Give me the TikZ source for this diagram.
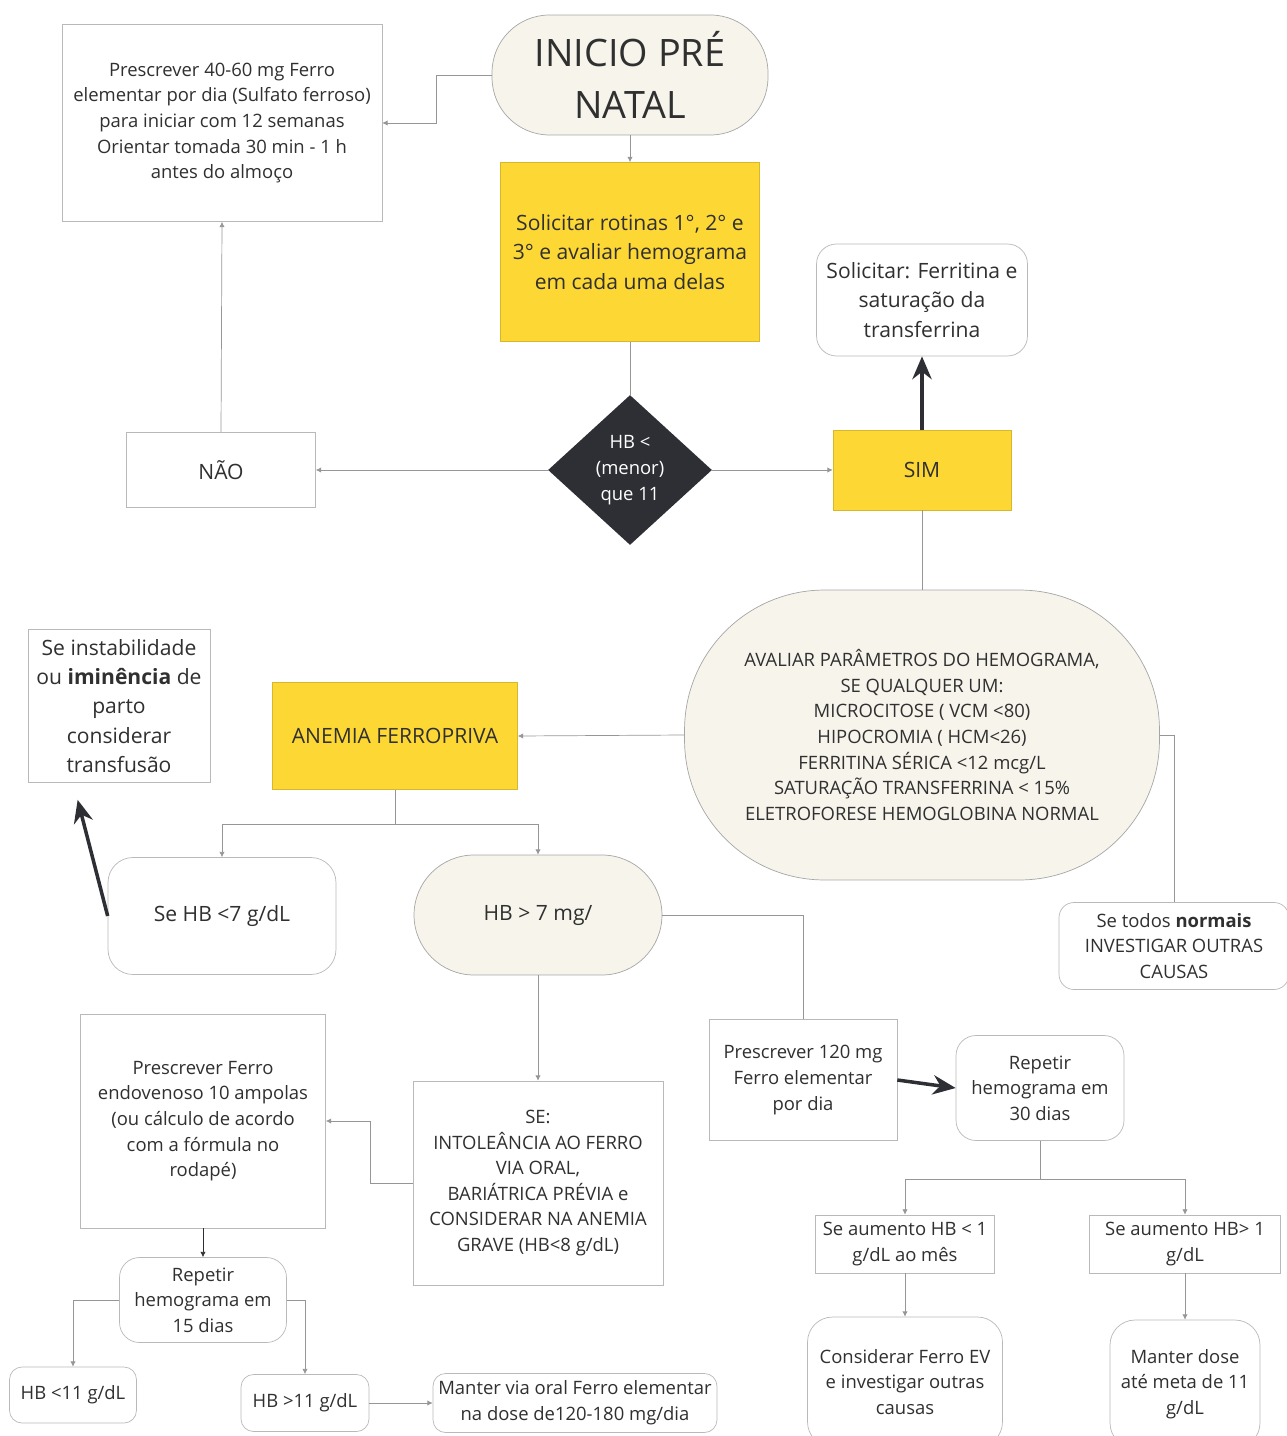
\documentclass[tikz,border=0pt]{standalone}
\usepackage{fontspec}
\setmainfont{Open Sans}
\usepackage{xcolor}
\usepackage{tikz}
\usetikzlibrary{shapes.geometric}
\usetikzlibrary{arrows.meta}
\usetikzlibrary{positioning}
\definecolor{amarelo}{RGB}{253,216,53}
\definecolor{creme}{RGB}{247,244,236}
\definecolor{borda}{RGB}{185,185,185}
\definecolor{linha}{RGB}{150,150,150}
\definecolor{escuro}{RGB}{45,47,52}
\definecolor{texto}{RGB}{48,48,48}

\tikzset{
	caixa/.style={draw=borda, fill=white, align=center, text=texto, inner sep=2pt,
		font=\fontsize{10.5}{14.6}\selectfont},
	grande/.style={font=\fontsize{12}{16.6}\selectfont},
	amarela/.style={caixa, grande, fill=amarelo, draw=amarelo!85!black},
	redonda/.style={caixa, rounded corners=0.4cm},
	pilula/.style={caixa, fill=creme, draw=borda!90!black},
	conector/.style={draw=linha, -{Latex[length=3pt,width=3pt]}},
	ligacao/.style={draw=linha},
	seta/.style={draw=escuro, line width=2pt, -{Stealth[length=13pt,width=11pt]}}
}

\begin{document}
\begin{tikzpicture}[x=0.02cm,y=-0.02cm]
	
	\useasboundingbox (0,0) rectangle (1287,1436);
	
	% topo
	\node[pilula, rounded corners=1.15cm, minimum width=5.52cm, minimum height=2.4cm,
		font=\fontsize{21.5}{29.5}\selectfont] (inicio) at (630,75) {INICIO PRÉ\\NATAL};
	\node[caixa, minimum width=6.4cm, minimum height=3.94cm] (ferro) at (222,123)
		{Prescrever 40-60 mg Ferro\\elementar por dia (Sulfato ferroso)\\para iniciar com 12 semanas\\Orientar tomada 30 min - 1 h\\antes do almoço};
	\node[amarela, minimum width=5.18cm, minimum height=3.58cm] (rotinas) at (630,252)
		{Solicitar rotinas 1°, 2° e\\3° e avaliar hemograma\\em cada uma delas};
	\node[diamond, fill=escuro, text=white, align=center, inner sep=0pt,
		minimum width=3.28cm, minimum height=3cm, font=\fontsize{10.5}{14.6}\selectfont] (hb) at (630,470)
		{HB <\\(menor)\\que 11};
	\node[caixa, grande, minimum width=3.78cm, minimum height=1.5cm] (nao) at (221,470) {NÃO};
	\node[amarela, minimum width=3.56cm, minimum height=1.6cm] (sim) at (922,470) {SIM};
	\node[redonda, grande, minimum width=4.22cm, minimum height=2.24cm] (ferritina) at (922,300)
		{Solicitar: Ferritina e\\saturação da\\transferrina};
	
	% meio
	\node[pilula, rounded corners=2.8cm, minimum width=9.5cm, minimum height=5.8cm] (avaliar) at (922,735)
		{AVALIAR PARÂMETROS DO HEMOGRAMA,\\SE QUALQUER UM:\\MICROCITOSE ( VCM <80)\\HIPOCROMIA ( HCM<26)\\FERRITINA SÉRICA <12 mcg/L\\SATURAÇÃO TRANSFERRINA < 15\%\\ELETROFORESE HEMOGLOBINA NORMAL};
	\node[amarela, minimum width=4.9cm, minimum height=2.14cm] (anemia) at (395,736) {ANEMIA FERROPRIVA};
	\node[caixa, grande, minimum width=3.64cm, minimum height=3.06cm] (instab) at (119,706)
		{Se instabilidade\\ou \textbf{iminência} de\\parto\\considerar\\transfusão};
	\node[redonda, grande, rounded corners=0.5cm, minimum width=4.56cm, minimum height=2.34cm] (hbmenor) at (222,916)
		{Se HB <7 g/dL};
	\node[pilula, grande, rounded corners=1.2cm, minimum width=4.96cm, minimum height=2.4cm] (hbmaior) at (538,915)
		{HB > 7 mg/};
	\node[redonda, rounded corners=0.3cm, minimum width=4.6cm, minimum height=1.74cm] (normais) at (1174,946)
		{Se todos \textbf{normais}\\INVESTIGAR OUTRAS\\CAUSAS};
	
	% ramo endovenoso
	\node[caixa, minimum width=4.9cm, minimum height=4.28cm] (endov) at (203,1121)
		{Prescrever Ferro\\endovenoso 10 ampolas\\(ou cálculo de acordo\\com a fórmula no\\rodapé)};
	\node[caixa, minimum width=5cm, minimum height=4.08cm] (indic) at (538,1183)
		{SE:\\INTOLEÂNCIA AO FERRO\\VIA ORAL,\\BARIÁTRICA PRÉVIA e\\CONSIDERAR NA ANEMIA\\GRAVE (HB<8 g/dL)};
	\node[redonda, minimum width=3.34cm, minimum height=1.7cm] (rep15) at (203,1300)
		{Repetir\\hemograma em\\15 dias};
	\node[redonda, rounded corners=0.25cm, minimum width=2.54cm, minimum height=1.12cm] (hbonze) at (73,1395)
		{HB <11 g/dL};
	\node[redonda, rounded corners=0.25cm, minimum width=2.56cm, minimum height=1.14cm] (hbacima) at (305,1403)
		{HB >11 g/dL};
	\node[redonda, rounded corners=0.25cm, minimum width=5.68cm, minimum height=1.18cm] (oral) at (575,1403)
		{Manter via oral Ferro elementar\\na dose de120-180 mg/dia};
	
	% ramo oral
	\node[caixa, minimum width=3.76cm, minimum height=2.42cm] (p120) at (803,1080)
		{Prescrever 120 mg\\Ferro elementar\\por dia};
	\node[redonda, minimum width=3.36cm, minimum height=2.1cm] (rep30) at (1040,1088)
		{Repetir\\hemograma em\\30 dias};
	\node[caixa, minimum width=3.58cm, minimum height=1.16cm] (aum1) at (905,1244)
		{Se aumento HB < 1\\g/dL ao mês};
	\node[caixa, minimum width=3.82cm, minimum height=1.16cm] (aum2) at (1185,1244)
		{Se aumento HB> 1\\g/dL};
	\node[redonda, rounded corners=0.5cm, minimum width=3.9cm, minimum height=2.6cm] (ferroev) at (905,1382)
		{Considerar Ferro EV\\e investigar outras\\causas};
	\node[redonda, rounded corners=0.5cm, minimum width=3cm, minimum height=2.56cm] (manter) at (1185,1384)
		{Manter dose\\até meta de 11\\g/dL};
	
	% conectores
	\draw[conector] (inicio.west) -- ++(-55,0) |- (ferro.east);
	\draw[conector] (inicio.south) -- (rotinas.north);
	\draw[ligacao] (rotinas.south) -- (hb.north);
	\draw[conector] (hb.west) -- (nao.east);
	\draw[conector] (hb.east) -- (sim.west);
	\draw[conector] (nao.north) -- (ferro.south);
	\draw[seta] (sim.north) -- (ferritina.south);
	\draw[ligacao] (sim.south) -- (avaliar.north);
	\draw[conector] (avaliar.west) -- (anemia.east);
	\draw[ligacao] (avaliar.east) -| (normais.north);
	\draw[ligacao] (anemia.south) -- ++(0,35) coordinate (ramo1);
	\draw[conector] (ramo1) -| (hbmenor.north);
	\draw[conector] (ramo1) -| (hbmaior.north);
	\draw[seta] (hbmenor.west) -- ([xshift=1cm,yshift=-0.34cm]instab.south west);
	\draw[ligacao] (hbmaior.east) -| (p120.north);
	\draw[conector] (hbmaior.south) -- (indic.north);
	\draw[conector] (indic.west) -- ++(-42,0) |- (endov.east);
	\draw[conector, draw=escuro] (endov.south) -- (rep15.north);
	\draw[conector] (rep15.west) -| (hbonze.north);
	\draw[conector] (rep15.east) -| (hbacima.north);
	\draw[conector] (hbacima.east) -- (oral.west);
	\draw[seta] (p120.east) -- (rep30.west);
	\draw[ligacao] (rep30.south) -- ++(0,38) coordinate (ramo2);
	\draw[conector] (ramo2) -| (aum1.north);
	\draw[conector] (ramo2) -| (aum2.north);
	\draw[conector] (aum1.south) -- (ferroev.north);
	\draw[conector] (aum2.south) -- (manter.north);
	
\end{tikzpicture}
\end{document}
